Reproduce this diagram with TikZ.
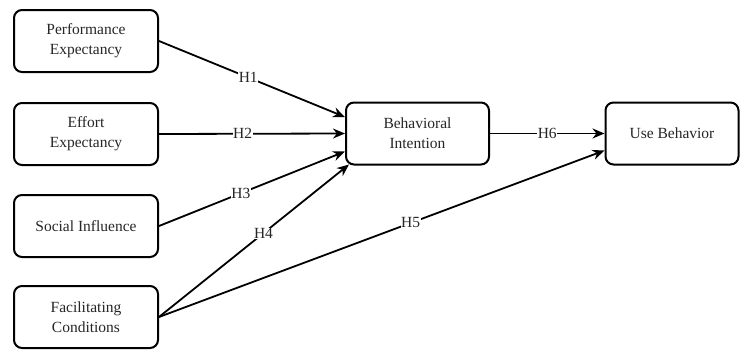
\documentclass[tikz,border=0pt]{standalone}
\usepackage{fontspec}
\setmainfont{Liberation Serif}
\newfontfamily\diagfont{Liberation Serif}
\usetikzlibrary{arrows.meta}
\begin{document}
\begin{tikzpicture}[x=1pt,y=-1pt,
  box/.style={draw, line width=2pt, rounded corners=8pt, minimum height=62pt, align=center, font=\diagfont\fontsize{15.5}{20}\selectfont, text=black!85},
  conn/.style={line width=1.8pt, -{Stealth[length=12pt,width=10pt]}},
  lab/.style={fill=white, inner sep=0.5pt, font=\diagfont\fontsize{15.5}{18}\selectfont, text=black!85}]
\useasboundingbox (0,0) rectangle (740,349);
\node[box, minimum width=144pt] (PE) at (86,41) {Performance\\Expectancy};
\node[box, minimum width=144pt] (EE) at (86,134) {Effort\\Expectancy};
\node[box, minimum width=144pt] (SI) at (86,226) {Social Influence};
\node[box, minimum width=144pt] (FC) at (86,317) {Facilitating\\Conditions};
\node[box, minimum width=143pt] (BI) at (417.5,133.5) {Behavioral\\Intention};
\node[box, minimum width=133pt] (UB) at (672,133.5) {Use Behavior};
\draw[conn] (PE.east) -- node[lab, pos=0.48] {H1} ([yshift=16.5pt]BI.west);
\draw[conn] (EE.east) -- node[lab, pos=0.45] {H2} (BI.west);
\draw[conn] (SI.east) -- node[lab, pos=0.44] {H3} ([yshift=-18pt]BI.west);
\draw[conn] (FC.east) -- node[lab, pos=0.55] {H4} ([xshift=4pt,yshift=1pt]BI.south west);
\draw[conn] (FC.east) -- node[lab, pos=0.565] {H5} ([yshift=-17pt]UB.west);
\draw[conn] (BI.east) -- node[lab, pos=0.5] {H6} (UB.west);
\end{tikzpicture}
\end{document}
